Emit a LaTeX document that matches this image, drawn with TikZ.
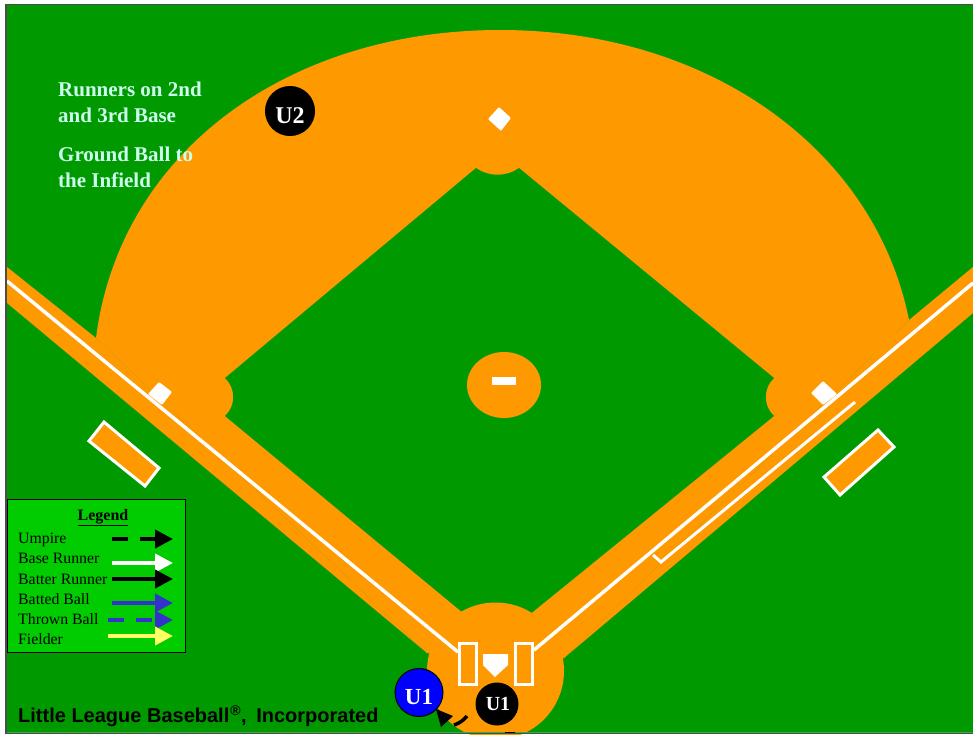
\documentclass[tikz,border=0pt]{standalone}
\usepackage{fontspec}
\setmainfont{Liberation Serif}
\newfontfamily\sansbold{Liberation Sans}
\usetikzlibrary{arrows.meta}
\definecolor{fieldgreen}{HTML}{009900}
\definecolor{legendgreen}{HTML}{00CC00}
\definecolor{dirt}{HTML}{FF9900}
\definecolor{ballblue}{HTML}{3333CC}
\definecolor{fielderyellow}{HTML}{FFFF66}
\definecolor{notecream}{HTML}{CCFFEE}
\tikzset{
  dirtfill/.style={fill=dirt,draw=none},
  chalk/.style={draw=white,line width=3pt},
  foulline/.style={draw=white,line width=3.5pt},
  basebag/.style={fill=white,draw=none,rounded corners=1pt},
  umpdisc/.style={circle,draw=black,line width=1pt,inner sep=0pt},
  umptext/.style={inner sep=0pt,text=white},
  legendtext/.style={anchor=base west,font=\fontsize{15.8}{16}\selectfont,inner sep=0pt,text=black},
  notetext/.style={anchor=base west,font=\bfseries\fontsize{21}{22}\selectfont,inner sep=0pt,text=notecream},
  legendarrow/.style={-{Triangle[length=18pt,width=18pt]},line width=4pt},
  legenddash/.style={legendarrow,dash pattern=on 16pt off 12pt}
}
\begin{document}
\begin{tikzpicture}[x=1pt,y=-1pt]
  \useasboundingbox (0,0) rectangle (973,734);
  % field
  \fill[white] (0,0) rectangle (973,734);
  \fill[fieldgreen] (6,4) rectangle (973,732);
  % outfield dirt
  \fill[dirtfill] (96,338) .. controls (120,150) and (290,30) .. (500,30)
    .. controls (710,30) and (875,150) .. (909,320) -- (564,658) -- (427,653) -- cycle;
  % base paths
  \fill[dirtfill] (7,267) -- (96,338) -- (427,653) -- (7,303) -- cycle;
  \fill[dirtfill] (973,267) -- (909,320) -- (564,658) -- (973,313) -- cycle;
  % infield grass
  \fill[fieldgreen] (225,378) -- (476,168) .. controls (488,177) and (507,177) .. (519,168)
    -- (774,378) .. controls (763,388) and (763,406) .. (774,416) -- (497,641) -- (225,416)
    .. controls (236,406) and (236,388) .. (225,378) -- cycle;
  % home circle
  \fill[dirtfill] (495.5,671) circle (68.5);
  % mound
  \fill[dirtfill] (504,385) ellipse[x radius=37,y radius=33];
  \fill[white] (492,377) rectangle (516,385);
  % dugouts
  \draw[chalk,fill=dirt] (104,422) -- (159,468) -- (145,486) -- (89,441) -- cycle;
  \draw[chalk,fill=dirt] (878,430) -- (894,447) -- (840,495) -- (824,477) -- cycle;
  % foul lines
  \draw[foulline] (7,281) -- (458,652);
  \draw[foulline] (973,283) -- (534,650);
  \draw[chalk] (855,402) -- (661,562) -- (653,555);
  % bases
  \fill[basebag] (159,382) -- (172,392) -- (162,405) -- (148,394) -- cycle;
  \fill[basebag] (823,381) -- (837,394) -- (823,405) -- (811,393) -- cycle;
  \fill[basebag] (499,107) -- (511,118) -- (501,131) -- (488,119) -- cycle;
  % home plate and boxes
  \draw[chalk,fill=dirt] (459.5,643.5) rectangle (476.5,684.5);
  \draw[chalk,fill=dirt] (515.5,643.5) rectangle (532.5,684.5);
  \fill[white] (483,654) -- (508,654) -- (508,665) -- (495,677) -- (483,665) -- cycle;
  % umpires
  \node[umpdisc,fill=black,minimum size=49pt] (umptwo) at (290,111) {};
  \node[umptext,yshift=-5pt,font=\bfseries\fontsize{24}{24}\selectfont] (umptwotext) at (umptwo) {U2};
  \node[umpdisc,fill=blue,minimum size=48pt] (umpone) at (419,692.5) {};
  \node[umptext,yshift=-4.5pt,font=\bfseries\fontsize{23}{23}\selectfont] (umponetext) at (umpone) {U1};
  \node[umpdisc,fill=black,draw=none,minimum size=43pt] (batterump) at (497,704) {};
  \node[umptext,xshift=1pt,font=\bfseries\fontsize{20}{20}\selectfont] (batterumptext) at (batterump) {U1};
  % umpire move
  \coordinate (movestart) at (467,716);
  \coordinate (movedash) at (454,725);
  \draw[line width=3.5pt,black] (movestart) to[bend left=15] (movedash);
  \fill[black] (436,709) -- (453,716) -- (441,727) -- cycle;
  % frame
  \fill[fieldgreen!80!white] (6,731.5) rectangle (973,732.5);
  \fill[black!70] (6,732.5) rectangle (973,734);
  \fill[black!70] (5,4) rectangle (973,5);
  \fill[black!70] (5,4) rectangle (6.5,734);
  \draw[black,line width=1.5pt] (505,732.5) -- (515,732.5);
  % notes
  \node[notetext] (noteone) at (58,96) {Runners on 2nd};
  \node[notetext] (notetwo) at (58,122) {and 3rd Base};
  \node[notetext] (notethree) at (58,161) {Ground Ball to};
  \node[notetext] (notefour) at (58,187) {the Infield};
  \node[anchor=base west,inner sep=0pt,text=black,font=\sansbold\bfseries\fontsize{20}{22}\selectfont] (credit) at (18,722) {Little League Baseball\hspace{1pt}\raisebox{-1.5pt}{\textsuperscript{\textregistered}},\ \hspace{4pt}Incorporated};
  % legend
  \node[draw=black,fill=legendgreen,line width=1pt,minimum width=178pt,minimum height=153pt,anchor=north west,inner sep=0pt] (legendbox) at (7,499) {};
  \node[anchor=base,inner sep=0pt,text=black,font=\bfseries\fontsize{16}{16}\selectfont] (legendtitle) at (103,520) {\underline{Legend}};
  \node[legendtext] (lgumpire) at (18,543) {Umpire};
  \node[legendtext] (lgbase) at (18,563) {Base Runner};
  \node[legendtext] (lgbatter) at (18,584) {Batter Runner};
  \node[legendtext] (lgbatted) at (18,604) {Batted Ball};
  \node[legendtext] (lgthrown) at (18,624) {Thrown Ball};
  \node[legendtext] (lgfielder) at (18,644) {Fielder};
  \coordinate (ua) at (112,539); \coordinate (ub) at (173,539);
  \coordinate (ba) at (112,563); \coordinate (bb) at (173,563);
  \coordinate (ra) at (112,579); \coordinate (rb) at (173,579);
  \coordinate (ta) at (112,603); \coordinate (tb) at (173,603);
  \coordinate (ha) at (108,620); \coordinate (hb) at (173,620);
  \coordinate (fa) at (108,636); \coordinate (fb) at (173,636);
  \draw[legenddash,black] (ua) -- (ub);
  \draw[legendarrow,white] (ba) -- (bb);
  \draw[legendarrow,black] (ra) -- (rb);
  \draw[legendarrow,ballblue] (ta) -- (tb);
  \draw[legenddash,ballblue] (ha) -- (hb);
  \draw[legendarrow,fielderyellow] (fa) -- (fb);
\end{tikzpicture}
\end{document}
